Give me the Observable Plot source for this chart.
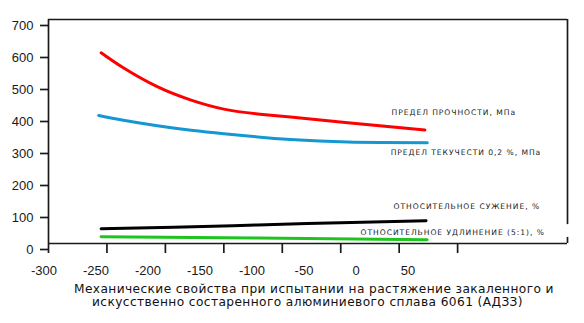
<!DOCTYPE html>
<html>
<head>
<meta charset="utf-8">
<script src="https://cdn.jsdelivr.net/npm/d3@7"></script>
<script src="https://cdn.jsdelivr.net/npm/@observablehq/plot@0.6"></script>
<style>
  html, body { margin: 0; padding: 0; background: #fff; }
  #wrap { position: relative; width: 584px; height: 323px; overflow: hidden; }
  #wrap > svg { position: absolute; left: 0; top: 0; }
  #wrap g[aria-label="text"] { letter-spacing: 0.95px; }
  #cap { position: absolute; left: 0; top: 283px; width: 584px; font-family: "DejaVu Sans", Verdana, sans-serif; font-size: 12.2px; line-height: 12.5px; letter-spacing: 0.4px; color: #111; }
  #cap div { white-space: nowrap; height: 12.5px; }
</style>
</head>
<body>
<div id="wrap"></div>
<script>
// Temperature, °C
const strengthT = [-255, -236, -207, -178, -150, -121, -93, -44, 22];
const strength  = [596, 549, 490, 448, 420, 405, 395, 377, 355];
const yieldT    = [-257, -236, -207, -178, -150, -121, -93, -44, 24];
const yieldV    = [400, 385, 368, 354, 343, 333, 325, 317, 315];
const reductionT = [-255, -193, -121, -50, 23];
const reduction  = [46, 51, 58, 65, 71];
const elongationT = [-255, -121, 24];
const elongation  = [21, 17, 12];

const seriesNames = ["ПРЕДЕЛ ПРОЧНОСТИ, МПа", "ПРЕДЕЛ ТЕКУЧЕСТИ 0,2 %, МПа", "ОТНОСИТЕЛЬНОЕ СУЖЕНИЕ, %", "ОТНОСИТЕЛЬНОЕ УДЛИНЕНИЕ (5:1), %"];
const labelX = [-6.5, -7.3, -4.8, -33];
const labelY = [409, 284, 116, 35];

const xTicks = [-300, -250, -200, -150, -100, -50, 0, 50];
const yTicks = [0, 100, 200, 300, 400, 500, 600, 700];
const caption = ["Механические свойства при испытании на растяжение закаленного и", "искусственно состаренного алюминиевого сплава 6061 (АДЗЗ)"];

const toRows = (xs, ys) => xs.map((x, i) => ({x, y: ys[i]}));
const labels = seriesNames.map((name, i) => ({name, x: labelX[i], y: labelY[i]}));

const W = 584, H = 280, ML = 48, MR = 17, MT = 19, MB = 37;
const fw = 1.7;

const main = Plot.plot({
  width: W, height: H,
  marginLeft: ML, marginRight: MR, marginTop: MT, marginBottom: MB,
  x: {domain: [-300, 144], label: null},
  y: {domain: [0, 700], label: null},
  style: {fontFamily: "'Liberation Sans', Arial, sans-serif", fontSize: "13px", color: "#1a1a1a", background: "transparent"},
  marks: [
    Plot.axisY({ticks: yTicks, tickSize: 8, tickPadding: 7, dy: 6, strokeWidth: fw, tickFormat: d => String(d), label: null}),
    Plot.axisX({ticks: xTicks, tickSize: 10, tickFormat: () => "", strokeWidth: fw, label: null}),
    Plot.ruleY([700], {strokeWidth: fw}),
    Plot.ruleY([0], {strokeWidth: fw}),
    Plot.ruleX([-300], {strokeWidth: fw}),
    Plot.ruleX([144], {y1: 59, y2: 700, strokeWidth: fw}),
    Plot.ruleX([144], {y1: 0, y2: 19, strokeWidth: fw}),
    Plot.line(toRows(strengthT, strength), {x: "x", y: "y", stroke: "#ff0000", strokeWidth: 3, curve: "natural"}),
    Plot.line(toRows(yieldT, yieldV), {x: "x", y: "y", stroke: "#1597d2", strokeWidth: 3, curve: "natural"}),
    Plot.line(toRows(reductionT, reduction), {x: "x", y: "y", stroke: "#000000", strokeWidth: 3, curve: "natural"}),
    Plot.line(toRows(elongationT, elongation), {x: "x", y: "y", stroke: "#1fc41f", strokeWidth: 3, curve: "natural"}),
    Plot.text(labels, {x: "x", y: "y", text: "name", textAnchor: "start", fontFamily: "'DejaVu Sans', Verdana, sans-serif", fontSize: 7.6})
  ]
});

// tick labels of the x axis sit on their own spacing in the original
const xLabels = Plot.plot({
  width: W, height: H,
  marginLeft: ML, marginRight: MR, marginTop: MT, marginBottom: MB,
  x: {domain: [-300, 50], range: [43.5, 407.5], label: null},
  style: {fontFamily: "'Liberation Sans', Arial, sans-serif", fontSize: "13px", color: "#1a1a1a", background: "transparent"},
  marks: [
    Plot.axisX({ticks: xTicks, tickSize: 0, tickPadding: 22, tickFormat: d => String(d), label: null})
  ]
});

const wrap = document.getElementById("wrap");
wrap.appendChild(xLabels);
wrap.appendChild(main);
const cap = document.createElement("div");
cap.id = "cap";
caption.forEach((t, i) => {
  const d = document.createElement("div");
  d.textContent = t;
  d.style.paddingLeft = (i === 0 ? 74 : 92) + "px";
  cap.appendChild(d);
});
wrap.appendChild(cap);
</script>
</body>
</html>
